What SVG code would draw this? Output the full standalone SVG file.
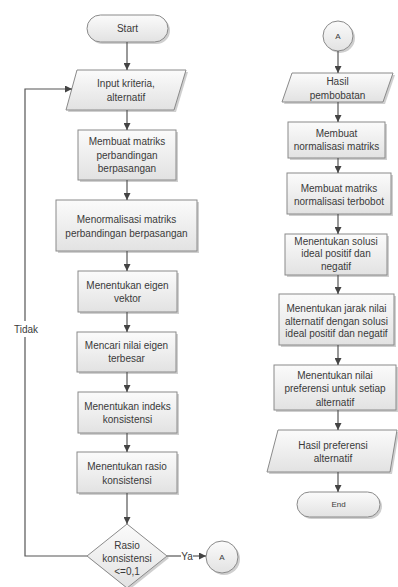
<svg xmlns="http://www.w3.org/2000/svg" width="398" height="587" viewBox="0 0 398 587">
<defs>
<linearGradient id="g" x1="0" y1="0" x2="0" y2="1">
<stop offset="0" stop-color="#fbfbfb"/>
<stop offset="1" stop-color="#e2e2e2"/>
</linearGradient>
<marker id="ah" viewBox="0 0 10 10" refX="10" refY="5" markerWidth="7" markerHeight="7" markerUnits="userSpaceOnUse" orient="auto">
<path d="M0,0 L10,5 L0,10 z" fill="#444"/>
</marker>
</defs>
<style>
.s{fill:url(#g);stroke:#8a8a8a;stroke-width:1}
.sh{fill:#cfcfcf;stroke:none}
text{font-family:"Liberation Sans",Arial,sans-serif;font-size:10px;fill:#3a3a3a;text-anchor:middle;dominant-baseline:central}
.c{fill:none;stroke:#555;stroke-width:1.2;marker-end:url(#ah)}
.l{fill:none;stroke:#555;stroke-width:1.2}
</style>
<rect width="398" height="587" fill="#fff"/>

<g id="start">
<rect class="sh" x="89" y="17" width="81" height="27" rx="13.5"/>
<rect class="s" x="87" y="15" width="81" height="27" rx="13.5"/>
<text x="127.5" y="28.5">Start</text>
</g>
<g id="input">
<polygon class="sh" points="79,72 188,72 176,112 68,112"/>
<polygon class="s" points="77,70 186,70 174,110 66,110"/>
<text x="126" y="83">Input kriteria,</text>
<text x="126" y="97">alternatif</text>
</g>
<g id="membuat">
<rect class="sh" x="80" y="132" width="98" height="50"/>
<rect class="s" x="78" y="130" width="98" height="50"/>
<text x="127" y="141">Membuat matriks</text>
<text x="127" y="155">perbandingan</text>
<text x="127" y="168.5">berpasangan</text>
</g>
<g id="normalisasi">
<rect class="sh" x="58" y="202" width="141" height="51"/>
<rect class="s" x="56" y="200" width="141" height="51"/>
<text x="126.5" y="219.5">Menormalisasi matriks</text>
<text x="126.5" y="233">perbandingan berpasangan</text>
</g>
<g id="eigen">
<rect class="sh" x="80" y="273" width="99" height="41"/>
<rect class="s" x="78" y="271" width="99" height="41"/>
<text x="127.5" y="285">Menentukan eigen</text>
<text x="127.5" y="298">vektor</text>
</g>
<g id="mencari">
<rect class="sh" x="79" y="334" width="99" height="40"/>
<rect class="s" x="77" y="332" width="99" height="40"/>
<text x="126.5" y="345">Mencari nilai eigen</text>
<text x="126.5" y="358">terbesar</text>
</g>
<g id="indeks">
<rect class="sh" x="80" y="394" width="99" height="41"/>
<rect class="s" x="78" y="392" width="99" height="41"/>
<text x="127.5" y="406">Menentukan indeks</text>
<text x="127.5" y="419">konsistensi</text>
</g>
<g id="rasio">
<rect class="sh" x="79" y="454" width="100" height="41"/>
<rect class="s" x="77" y="452" width="100" height="41"/>
<text x="127" y="466">Menentukan rasio</text>
<text x="127" y="480">konsistensi</text>
</g>
<g id="keputusan">
<polygon class="sh" points="129,526 169,558 129,590 89,558"/>
<polygon class="s" points="127,524 167,556 127,588 87,556"/>
<text x="127" y="545">Rasio</text>
<text x="127" y="558">konsistensi</text>
<text x="127" y="571.5">&lt;=0,1</text>
</g>
<g id="konektorA1">
<circle class="sh" cx="224" cy="559" r="16"/>
<circle class="s" cx="222" cy="557" r="16"/>
<text x="222" y="557" style="font-size:8px">A</text>
</g>

<g id="konektorA2">
<circle class="sh" cx="340" cy="38" r="15"/>
<circle class="s" cx="338" cy="36" r="15"/>
<text x="338" y="36" style="font-size:8px">A</text>
</g>
<g id="hasil">
<polygon class="sh" points="294,75 395,75 385,104 284,104"/>
<polygon class="s" points="292,73 393,73 383,102 282,102"/>
<text x="337.5" y="81.5">Hasil</text>
<text x="337.5" y="95">pembobatan</text>
</g>
<g id="normalisasi2">
<rect class="sh" x="290" y="124" width="97" height="36"/>
<rect class="s" x="288" y="122" width="97" height="36"/>
<text x="336.5" y="133">Membuat</text>
<text x="336.5" y="146">normalisasi matriks</text>
</g>
<g id="terbobot">
<rect class="sh" x="289" y="175" width="104" height="41"/>
<rect class="s" x="287" y="173" width="104" height="41"/>
<text x="339" y="188">Membuat matriks</text>
<text x="339" y="201.5">normalisasi terbobot</text>
</g>
<g id="solusi">
<rect class="sh" x="287" y="236" width="102" height="41"/>
<rect class="s" x="285" y="234" width="102" height="41"/>
<text x="336" y="241">Menentukan solusi</text>
<text x="336" y="253.5">ideal positif dan</text>
<text x="336" y="266">negatif</text>
</g>
<g id="jarak">
<rect class="sh" x="281" y="296" width="115" height="51"/>
<rect class="s" x="279" y="294" width="115" height="51"/>
<text x="336.5" y="308">Menentukan jarak nilai</text>
<text x="336.5" y="321">alternatif dengan solusi</text>
<text x="336.5" y="333.5">ideal positif dan negatif</text>
</g>
<g id="preferensi">
<rect class="sh" x="276" y="367" width="122" height="45"/>
<rect class="s" x="274" y="365" width="122" height="45"/>
<text x="335" y="375">Menentukan nilai</text>
<text x="335" y="388.5">preferensi untuk setiap</text>
<text x="335" y="402">alternatif</text>
</g>
<g id="hasilpref">
<polygon class="sh" points="280,432 399,432 392,474 269,474"/>
<polygon class="s" points="278,430 397,430 390,472 267,472"/>
<text x="333" y="445">Hasil preferensi</text>
<text x="333" y="458">alternatif</text>
</g>
<g id="end">
<rect class="sh" x="299" y="494" width="83" height="25" rx="12.5"/>
<rect class="s" x="297" y="492" width="83" height="25" rx="12.5"/>
<text x="338.5" y="504.5" style="font-size:8px">End</text>
</g>

<g id="connectors">
<line class="c" x1="127" y1="42" x2="127" y2="70"/>
<line class="c" x1="127" y1="110" x2="127" y2="130"/>
<line class="c" x1="127" y1="180" x2="127" y2="200"/>
<line class="c" x1="127" y1="251" x2="127" y2="271"/>
<line class="c" x1="127" y1="312" x2="127" y2="332"/>
<line class="c" x1="127" y1="372" x2="127" y2="392"/>
<line class="c" x1="127" y1="433" x2="127" y2="452"/>
<line class="c" x1="127" y1="493" x2="127" y2="524"/>
<polyline class="c" points="87,556 25,556 25,89 72,89"/>
<line class="l" x1="167" y1="556" x2="181" y2="556"/>
<line class="c" x1="193" y1="556" x2="206" y2="556"/>
<line class="c" x1="338" y1="51" x2="338" y2="73"/>
<line class="c" x1="338" y1="102" x2="338" y2="122"/>
<line class="c" x1="338" y1="158" x2="338" y2="173"/>
<line class="c" x1="338" y1="214" x2="338" y2="234"/>
<line class="c" x1="338" y1="275" x2="338" y2="294"/>
<line class="c" x1="338" y1="345" x2="338" y2="365"/>
<line class="c" x1="338" y1="410" x2="338" y2="430"/>
<line class="c" x1="338" y1="472" x2="338" y2="492"/>
<rect x="12" y="321" width="28" height="16" fill="#fff"/>
<text x="26" y="329">Tidak</text>
<text x="187" y="556">Ya</text>
</g>
</svg>
